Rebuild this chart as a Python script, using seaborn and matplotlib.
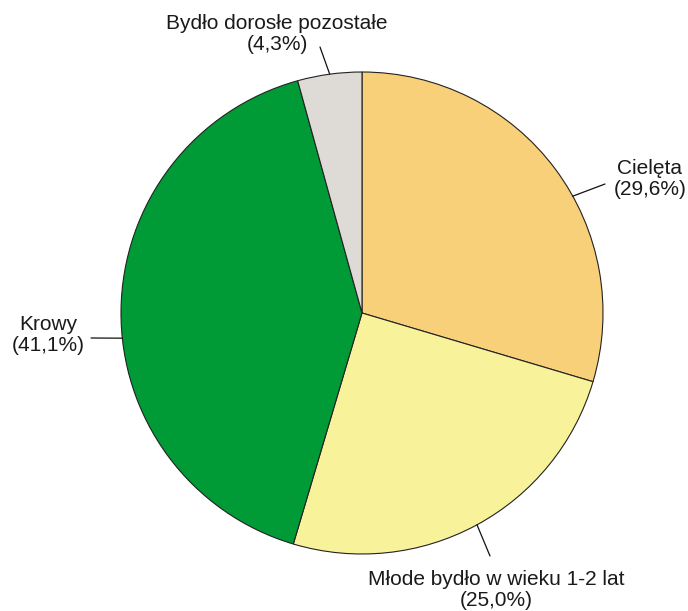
import numpy as np
import matplotlib
matplotlib.use("Agg")
import matplotlib.pyplot as plt
import seaborn as sns

# data
categories = ["Cielęta", "Młode bydło w wieku 1-2 lat", "Krowy", "Bydło dorosłe pozostałe"]
shares = [29.6, 25.0, 41.1, 4.3]
colors = ["#F8D07A", "#F8F29A", "#009A36", "#DEDAD5"]

# label layout (pixels in the 688x611 picture)
attach_angles = [29.0, -61.5, 186.0, 97.7]
line_ends = [(605, 184), (490, 556), (91, 338), (320, 47)]
text_centres = [(650, 179), (496, 590), (48, 335), (277, 34)]

W, H = 688, 611
CX, CY, R = 362, 313, 241


def px(p):
    return ((p[0] - CX) / R, (CY - p[1]) / R)


sns.set_theme(style="white")
plt.rcParams["font.family"] = ["Liberation Sans", "DejaVu Sans"]

fig = plt.figure(figsize=(W / 100, H / 100), dpi=100)
ax = fig.add_axes([0, 0, 1, 1])
ax.pie(shares, colors=colors, startangle=90, counterclock=False,
       wedgeprops=dict(edgecolor="#222222", linewidth=0.8))
ax.set_xlim(-CX / R, (W - CX) / R)
ax.set_ylim((CY - H) / R, CY / R)
ax.set_aspect("equal")
ax.axis("off")

for name, val, ang, end, tc in zip(categories, shares, attach_angles, line_ends, text_centres):
    a = np.deg2rad(ang)
    start = (np.cos(a) * 1.0, np.sin(a) * 1.0)
    ex, ey = px(end)
    ax.plot([start[0], ex], [start[1], ey], color="#111111", lw=0.9)
    tx, ty = px(tc)
    label = f"{name}\n({val:.1f}%)".replace(".", ",")
    ax.text(tx, ty, label, ha="center", va="center", fontsize=15,
            color="#1a1a1a", linespacing=1.1)

fig.savefig("out.png", dpi=100)
